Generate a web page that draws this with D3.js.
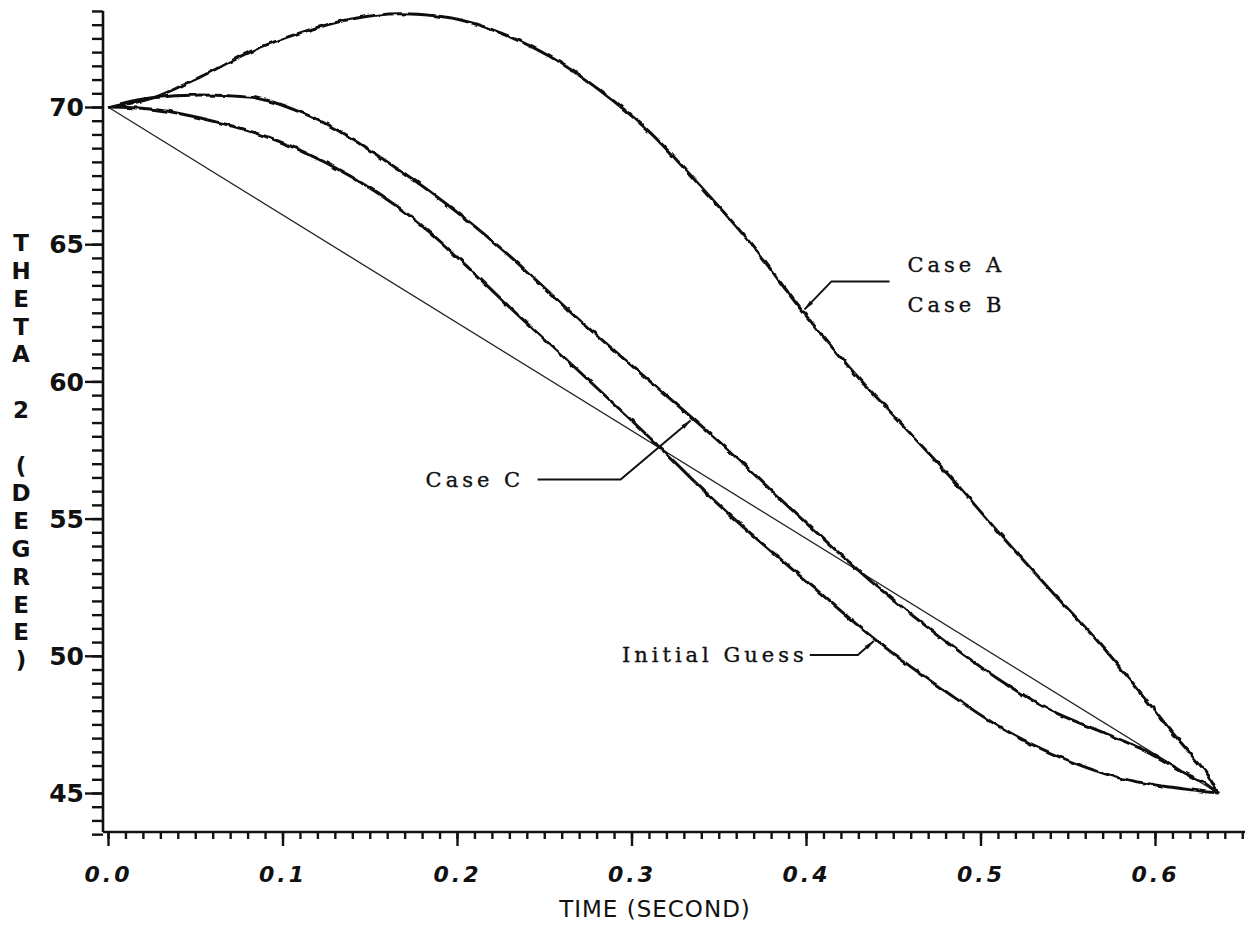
<!DOCTYPE html>
<html><head><meta charset="utf-8">
<script src="https://cdn.jsdelivr.net/npm/d3@7"></script>
<style>body{margin:0;background:#fff}svg{display:block}</style>
</head><body>
<svg id="chart" width="1245" height="946"></svg>
<script>
// ---- data (time in seconds, theta2 in degrees) ----
const caseAB = [[0,70],[0.024,70.3],[0.053,71.1],[0.081,72.0],[0.11,72.7],[0.139,73.2],[0.167,73.4],[0.196,73.25],[0.225,72.7],[0.253,71.85],[0.282,70.6],[0.311,69.05],[0.339,67.15],[0.368,65.05],[0.398,62.55],[0.425,60.5],[0.454,58.5],[0.483,56.5],[0.511,54.45],[0.54,52.4],[0.569,50.4],[0.595,48.4],[0.61,47.2],[0.622,46.3],[0.632,45.5],[0.636,45.0]];
const caseC = [[0,70],[0.024,70.33],[0.053,70.44],[0.081,70.36],[0.11,69.82],[0.167,67.7],[0.225,64.86],[0.27,62.24],[0.311,59.98],[0.351,57.76],[0.397,55.02],[0.441,52.51],[0.483,50.39],[0.511,49.12],[0.54,48.02],[0.568,47.26],[0.597,46.46],[0.616,45.77],[0.63,45.29],[0.636,45.0]];
const guessCurve = [[0,70],[0.024,69.93],[0.053,69.6],[0.11,68.43],[0.167,66.32],[0.238,62.24],[0.316,57.61],[0.347,55.68],[0.404,52.51],[0.442,50.47],[0.483,48.57],[0.511,47.41],[0.54,46.46],[0.578,45.58],[0.616,45.15],[0.636,45.0]];
const straightLine = [[0,70],[0.636,45]];
const xMajorTicks = [0,0.1,0.2,0.3,0.4,0.5,0.6];
const xTickLabels = ["0.0","0.1","0.2","0.3","0.4","0.5","0.6"];
const xMinorTicks = d3.range(0,66).map(i=>i/100);
const yMajorTicks = [45,50,55,60,65,70];
const yTickLabels = ["45","50","55","60","65","70"];
const yMinorTicks = d3.range(0,61).map(i=>43.5+i*0.5);
const xTitle = "TIME (SECOND)";
const yTitle = "THETA 2 (DEGREE)";
const labelAB = ["Case A","Case B"];
const labelC = "Case C";
const labelGuess = "Initial Guess";

const svg = d3.select("#chart");
const x = d3.scaleLinear().domain([0,0.6]).range([108,1155]);
const y = d3.scaleLinear().domain([45,70]).range([793,107]);
const axisY = 832, axisX = 103;

const defs = svg.append("defs");
const f = defs.append("filter").attr("id","wobble").attr("x","-2%").attr("y","-2%").attr("width","104%").attr("height","104%");
f.append("feTurbulence").attr("type","fractalNoise").attr("baseFrequency","0.12").attr("numOctaves",1).attr("seed",4).attr("result","n");
f.append("feDisplacementMap").attr("in","SourceGraphic").attr("in2","n").attr("scale",4).attr("xChannelSelector","R").attr("yChannelSelector","G");
defs.append("marker").attr("id","arr").attr("viewBox","0 0 10 6").attr("refX",10).attr("refY",3)
  .attr("markerWidth",14).attr("markerHeight",6).attr("markerUnits","userSpaceOnUse").attr("orient","auto")
  .append("path").attr("d","M0,0.8 L10,3 L0,5.2 Z").attr("fill","#111");

// axes lines
svg.append("line").attr("x1",axisX).attr("x2",1245).attr("y1",axisY).attr("y2",axisY).attr("stroke","#111").attr("stroke-width",2.6);
svg.append("line").attr("x1",axisX).attr("x2",axisX).attr("y1",axisY).attr("y2",y(73.5)).attr("stroke","#111").attr("stroke-width",2.6);

svg.append("g").attr("transform",`translate(0,${axisY})`)
  .call(d3.axisBottom(x).tickValues(xMinorTicks).tickSize(7).tickFormat(""));
const xMajor = svg.append("g").attr("transform",`translate(0,${axisY})`)
  .call(d3.axisBottom(x).tickValues(xMajorTicks).tickSize(14).tickPadding(20).tickFormat((d,i)=>xTickLabels[i]));
svg.append("g").attr("transform",`translate(${axisX},0)`)
  .call(d3.axisLeft(y).tickValues(yMinorTicks).tickSize(11).tickFormat(""));
const yMajor = svg.append("g").attr("transform",`translate(${axisX},0)`)
  .call(d3.axisLeft(y).tickValues(yMajorTicks).tickSize(18).tickPadding(1).tickFormat((d,i)=>yTickLabels[i]));
svg.selectAll(".domain").remove();
svg.selectAll(".tick line").attr("stroke","#111").attr("stroke-width",2.4);
xMajor.selectAll("text").attr("font-family","DejaVu Sans").attr("font-weight","bold").attr("font-size",22)
  .attr("letter-spacing",3).attr("fill","#111").attr("font-style","italic");
yMajor.selectAll("text").attr("font-family","DejaVu Sans").attr("font-weight","bold").attr("font-size",25)
  .attr("fill","#111").attr("dy","0.35em");

// titles
svg.append("text").attr("x",655).attr("y",917).attr("text-anchor","middle")
  .attr("font-family","DejaVu Sans").attr("font-size",23).attr("fill","#111").attr("letter-spacing",1).text(xTitle);
svg.append("g").selectAll("text").data(yTitle.split("")).join("text")
  .attr("x",21).attr("y",(d,i)=>243+i*27.8).attr("dy","0.36em").attr("text-anchor","middle")
  .attr("font-family","DejaVu Sans").attr("font-weight","bold").attr("font-size",23).attr("fill","#111").text(d=>d);

// curves
const line = d3.line().x(d=>x(d[0])).y(d=>y(d[1])).curve(d3.curveMonotoneX);
svg.append("path").datum(straightLine).attr("d",line).attr("fill","none").attr("stroke","#222").attr("stroke-width",1.3);
[caseAB, caseC, guessCurve].forEach(s=>{
  svg.append("path").datum(s).attr("d",line).attr("fill","none").attr("stroke","#111")
    .attr("stroke-width",3).attr("filter","url(#wobble)");
});

// annotations
function at(series,t){const b=d3.bisector(d=>d[0]).left(series,t);const a=series[b-1],c=series[b];
  const k=(t-a[0])/(c[0]-a[0]);return [x(t),y(a[1]+k*(c[1]-a[1]))];}
const annFont = s=>s.attr("font-family","DejaVu Serif").attr("font-size",21).attr("letter-spacing",4)
  .attr("fill","#111").attr("stroke","#111").attr("stroke-width",0.35);
const tA = at(caseAB,0.398);
svg.append("path").attr("d",`M${tA[0]+87},${tA[1]-30} L${tA[0]+29},${tA[1]-30} L${tA[0]+2},${tA[1]-2}`)
  .attr("fill","none").attr("stroke","#111").attr("stroke-width",2).attr("marker-end","url(#arr)");
svg.append("text").attr("x",tA[0]+105).attr("y",tA[1]-39).call(annFont).text(labelAB[0]);
svg.append("text").attr("x",tA[0]+105).attr("y",tA[1]+1).call(annFont).text(labelAB[1]);

const tC = at(caseC,0.335);
svg.append("path").attr("d",`M${tC[0]-155},${tC[1]+61} L${tC[0]-72},${tC[1]+61} L${tC[0]-2},${tC[1]+2}`)
  .attr("fill","none").attr("stroke","#111").attr("stroke-width",2).attr("marker-end","url(#arr)");
svg.append("text").attr("x",tC[0]-267).attr("y",tC[1]+69).call(annFont).text(labelC);

const tG = at(guessCurve,0.44);
svg.append("path").attr("d",`M${tG[0]-66},${tG[1]+15} L${tG[0]-18},${tG[1]+15} L${tG[0]-2},${tG[1]+1}`)
  .attr("fill","none").attr("stroke","#111").attr("stroke-width",2).attr("marker-end","url(#arr)");
svg.append("text").attr("x",tG[0]-68).attr("y",tG[1]+22).attr("text-anchor","end").call(annFont).text(labelGuess);
</script>
</body></html>
